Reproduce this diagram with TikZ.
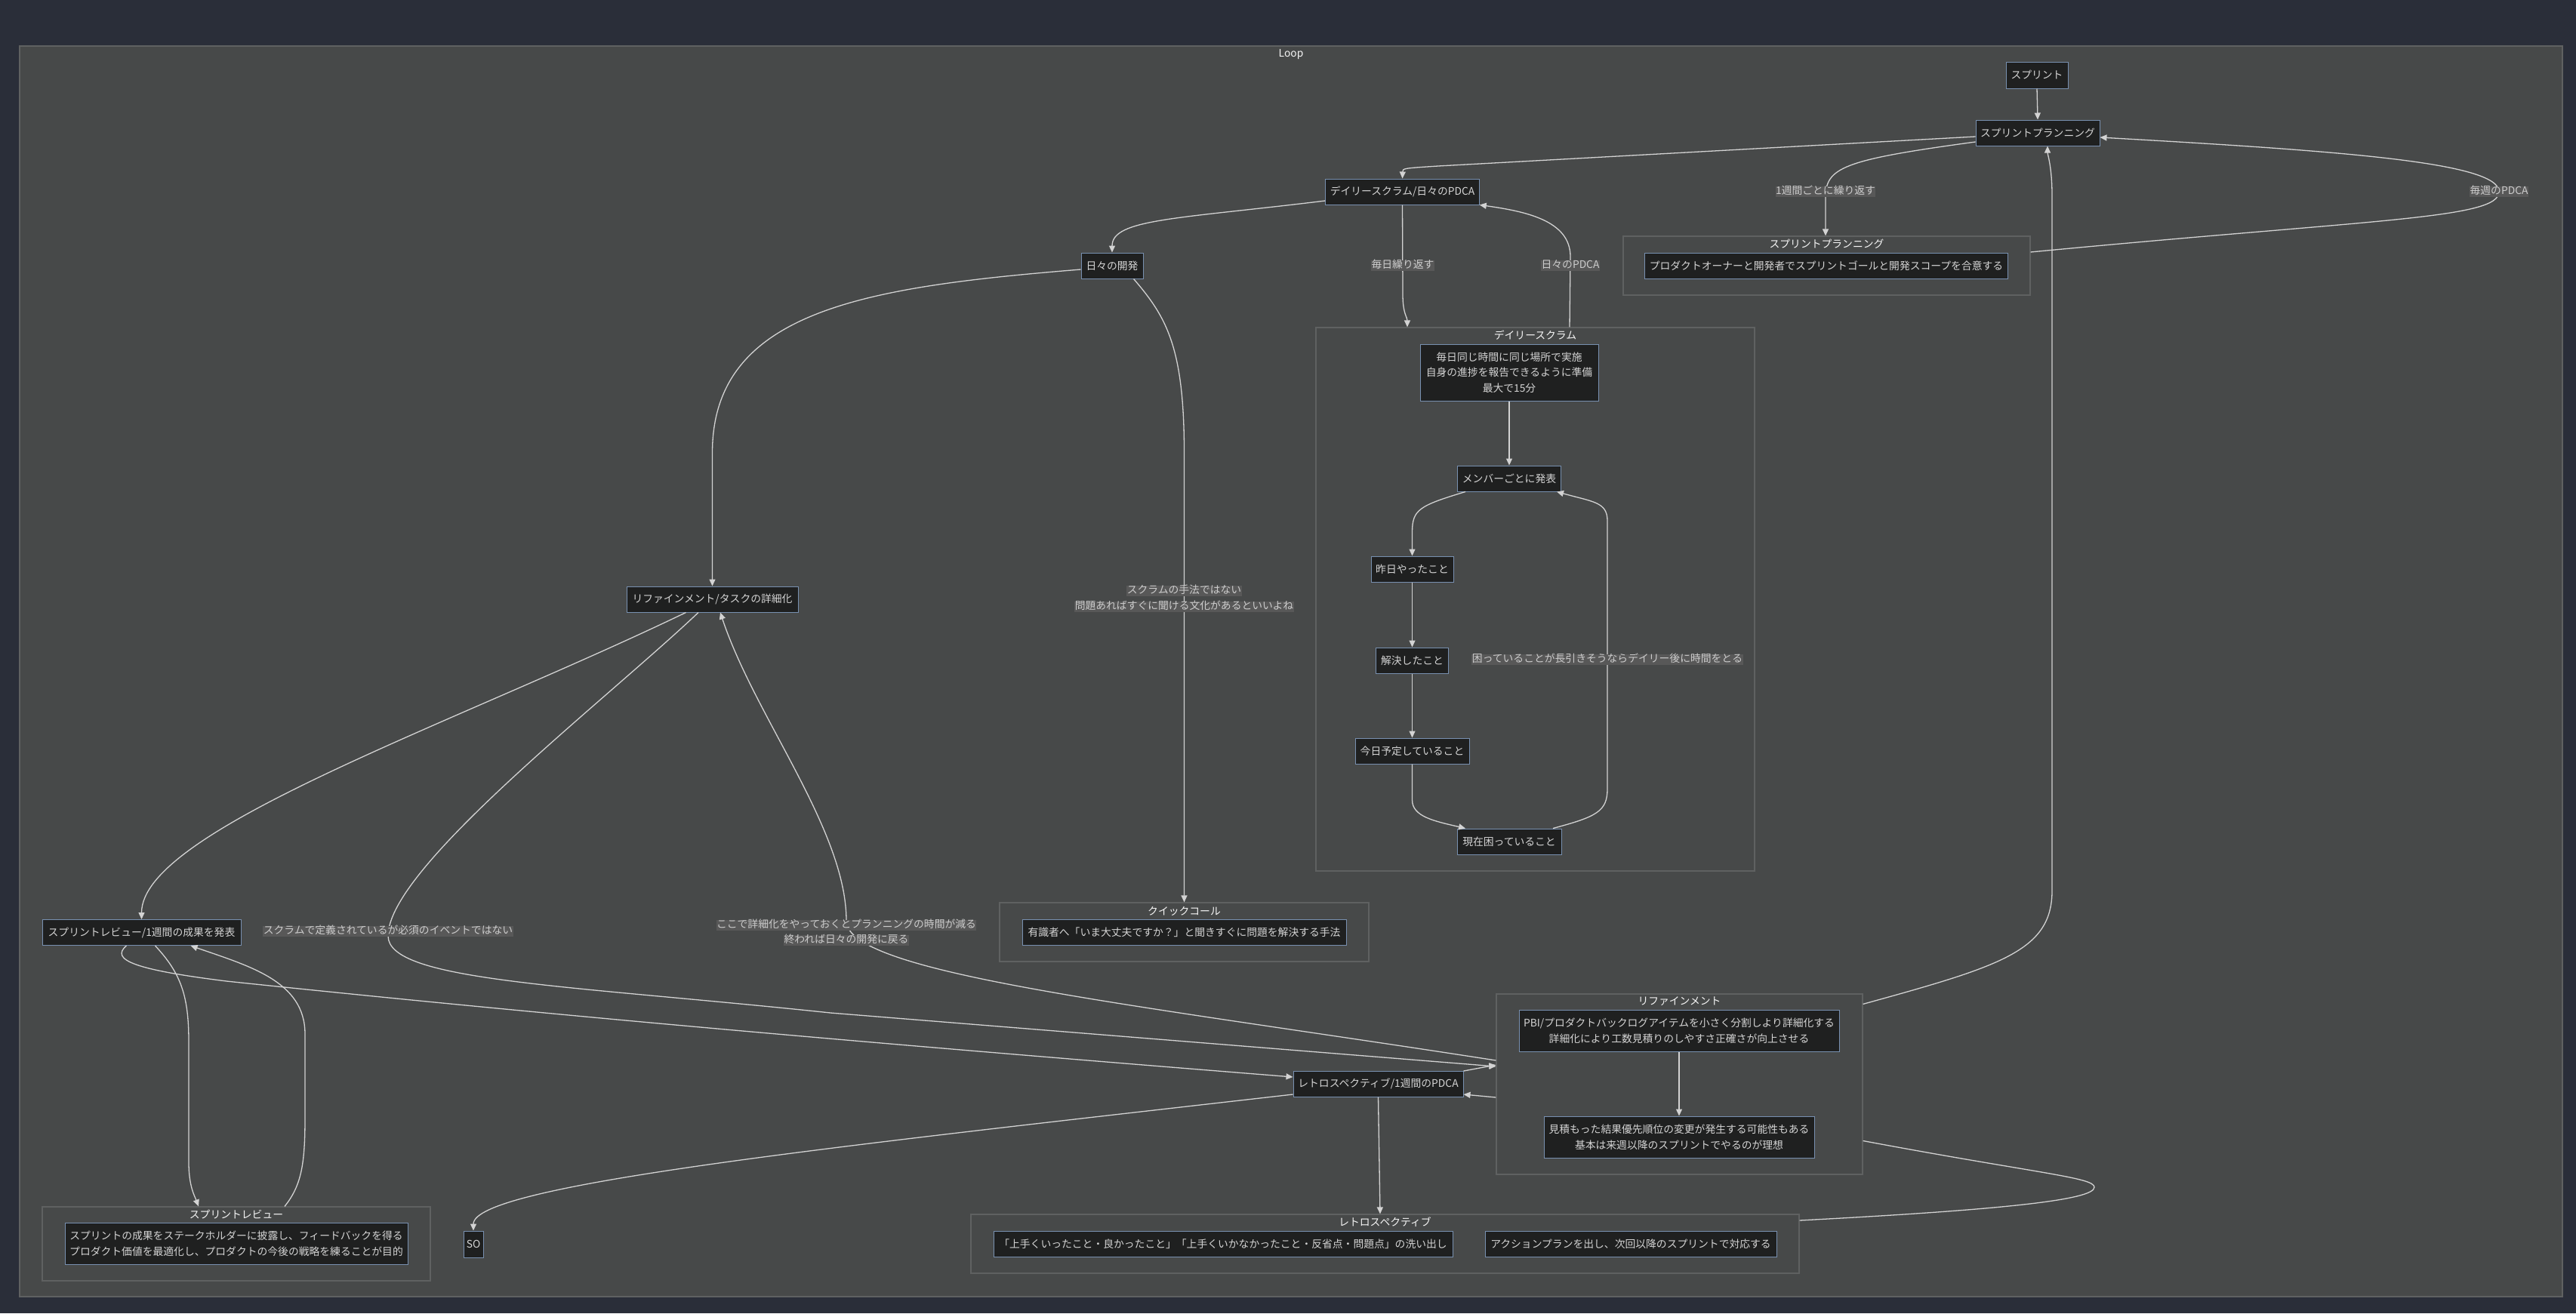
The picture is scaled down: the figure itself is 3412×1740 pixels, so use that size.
\documentclass[tikz,border=0pt]{standalone}
\usepackage{fontspec}
\setmainfont{Noto Sans CJK JP}
\usetikzlibrary{arrows.meta}
\definecolor{pagebg}{HTML}{2A2E39}
\definecolor{clfill}{HTML}{474949}
\definecolor{cldraw}{HTML}{5F6161}
\definecolor{nfill}{HTML}{1F2020}
\definecolor{ndraw}{HTML}{7890B0}
\definecolor{ntext}{HTML}{D4D4D4}
\definecolor{ttext}{HTML}{F5F5F5}
\definecolor{ecol}{HTML}{D3D3D3}
\definecolor{lbg}{HTML}{585858}
\definecolor{ltext}{HTML}{CCCCCC}
\begin{document}
\begin{tikzpicture}[x=1pt,y=-1pt,
 every node/.style={font=\fontsize{13.8}{20.5}\selectfont},
 box/.style={draw=ndraw, fill=nfill, line width=1pt, text=ntext, align=center, inner xsep=6pt, inner ysep=2pt},
 cluster/.style={draw=cldraw, fill=clfill, line width=1.2pt, inner sep=0pt},
 ctitle/.style={text=ttext, inner sep=0pt},
 edge/.style={draw=ecol, line width=1.3pt, -{Triangle[length=9pt,width=8pt]}},
 link/.style={draw=ecol, line width=1.3pt},
 lbl/.style={fill=lbg, text=ltext, inner xsep=0.5pt, inner ysep=0pt, text height=11pt, text depth=3.5pt},
]
\useasboundingbox (0,0) rectangle (3412,1740);
\fill[pagebg] (0,0) rectangle (3412,1740);

% clusters
\node[cluster, minimum width=3368pt, minimum height=1657pt] (loop) at (1710,889.5) {};
\node[ctitle] (tloop) at (1710,72) {Loop};
\node[cluster, minimum width=539pt, minimum height=78pt] (sppc) at (2419.5,352) {};
\node[ctitle] (tsppc) at (2419.5,323) {スプリントプランニング};
\node[cluster, minimum width=581pt, minimum height=720pt] (dsc) at (2033.5,794) {};
\node[ctitle] (tdsc) at (2033.5,444) {デイリースクラム};
\node[cluster, minimum width=489pt, minimum height=78pt] (qcc) at (1568.5,1235) {};
\node[ctitle] (tqcc) at (1568.5,1207) {クイックコール};
\node[cluster, minimum width=514pt, minimum height=98pt] (src) at (313,1648) {};
\node[ctitle] (tsrc) at (313,1609) {スプリントレビュー};
\node[cluster, minimum width=485pt, minimum height=239pt] (rfc) at (2224.5,1436.5) {};
\node[ctitle] (trfc) at (2224.5,1327) {リファインメント};
\node[cluster, minimum width=1097pt, minimum height=78pt] (rtc) at (1834.5,1648) {};
\node[ctitle] (trtc) at (1834.5,1619) {レトロスペクティブ};

% nodes
\node[box, minimum width=82pt, minimum height=35pt] (sprint) at (2698,99.5) {スプリント};
\node[box, minimum width=164pt, minimum height=34pt] (spplan) at (2699,176) {スプリントプランニング};
\node[box, minimum width=203pt, minimum height=34pt] (daily) at (1857.5,254) {デイリースクラム/日々のPDCA};
\node[box, minimum width=82pt, minimum height=34pt] (dev) at (1473,352) {日々の開発};
\node[box, minimum width=227pt, minimum height=34pt] (reftask) at (943.5,794) {リファインメント/タスクの詳細化};
\node[box, minimum width=263pt, minimum height=34pt] (review) at (187.5,1235.5) {スプリントレビュー/1週間の成果を発表};
\node[box, minimum width=454pt, minimum height=55pt] (srnode) at (313,1647.5) {スプリントの成果をステークホルダーに披露し、フィードバックを得る\\プロダクト価値を最適化し、プロダクトの今後の戦略を練ることが目的};
\node[box, minimum width=26pt, minimum height=35pt, inner xsep=3pt] (so) at (627,1648.5) {SO};
\node[box, minimum width=429pt, minimum height=34pt] (qcnode) at (1568.5,1235) {有識者へ「いま大丈夫ですか？」と聞きすぐに問題を解決する手法};
\node[box, minimum width=236pt, minimum height=75pt] (dsinfo) at (1999,493.5) {毎日同じ時間に同じ場所で実施\\自身の進捗を報告できるように準備\\最大で15分};
\node[box, minimum width=136pt, minimum height=34pt] (member) at (1999,634) {メンバーごとに発表};
\node[box, minimum width=109pt, minimum height=34pt] (yesterday) at (1870.5,754) {昨日やったこと};
\node[box, minimum width=96pt, minimum height=34pt] (solved) at (1870.5,875) {解決したこと};
\node[box, minimum width=151pt, minimum height=34pt] (today) at (1870.5,995) {今日予定していること};
\node[box, minimum width=138pt, minimum height=34pt] (trouble) at (1999,1115) {現在困っていること};
\node[box, minimum width=478pt, minimum height=34pt] (sppnode) at (2419,352) {プロダクトオーナーと開発者でスプリントゴールと開発スコープを合意する};
\node[box, minimum width=424pt, minimum height=55pt] (ref1) at (2224,1365.5) {PBI/プロダクトバックログアイテムを小さく分割しより詳細化する\\詳細化により工数見積りのしやすさ正確さが向上させる};
\node[box, minimum width=358pt, minimum height=55pt] (ref2) at (2224,1506.5) {見積もった結果優先順位の変更が発生する可能性もある\\基本は来週以降のスプリントでやるのが理想};
\node[box, minimum width=225pt, minimum height=34pt] (retro) at (1825.5,1436) {レトロスペクティブ/1週間のPDCA};
\node[box, minimum width=608pt, minimum height=34pt] (retro1) at (1620,1648) {「上手くいったこと・良かったこと」「上手くいかなかったこと・反省点・問題点」の洗い出し};
\node[box, minimum width=386pt, minimum height=34pt] (retro2) at (2160,1648) {アクションプランを出し、次回以降のスプリントで対応する};

% edges
\draw[edge] (sprint.south) -- (spplan.north);
\draw[edge] ([yshift=-5pt]spplan.west) -- (1905,220) .. controls (1858,223) .. (daily.north);
\draw[edge] ([yshift=-12pt]spplan.west) .. controls (2440,212) and (2418,222) .. (2418,262) -- (sppc.north -| 2418,0);
\draw[edge] ([yshift=18pt]sppc.east) .. controls (3150,290) and (3310,290) .. (3310,254) .. controls (3310,215) and (3100,200) .. ([yshift=-6pt]spplan.east);
\draw[edge] ([yshift=-12pt]daily.west) .. controls (1560,290) and (1473,290) .. (dev.north);
\draw[edge] (daily.south) -- (1858,390) .. controls (1858,416) and (1864,420) .. (dsc.north -| 1864,0);
\draw[edge] (dsc.north -| 2079,0) -- (2080,340) .. controls (2080,292) and (2020,280) .. (daily.south east);
\draw[edge] ([yshift=-5pt]dev.west) .. controls (1150,380) and (943.5,410) .. (943.5,600) -- (reftask.north);
\draw[edge] ([xshift=-13pt]dev.south east) .. controls (1545,420) and (1568.5,460) .. (1568.5,600) -- (qcc.north);
\draw[edge] ([xshift=-35pt]reftask.south) .. controls (600,960) and (187.5,1100) .. (review.north);
\draw[edge] ([xshift=-18.5pt]reftask.south) .. controls (800,930) and (514,1150) .. (514,1240) .. controls (514,1300) and (750,1305) .. (1100,1342) -- (rfc.west |- 0,1413);
\draw[edge] (rfc.west |- 0,1405) .. controls (1500,1330) and (1121,1290) .. (1121,1220) .. controls (1121,1100) and (1000,950) .. ([xshift=10.5pt]reftask.south);
\draw[edge] ([xshift=18pt]review.south) .. controls (240,1290) and (250,1320) .. (250,1380) -- (250,1540) .. controls (250,1572) and (258,1585) .. (src.north -| 263,0);
\draw[edge] (src.north -| 377,0) .. controls (400,1570) and (404,1540) .. (404,1480) -- (404,1370) .. controls (404,1300) and (330,1280) .. ([xshift=65pt]review.south);
\draw[edge] ([xshift=-20pt]review.south) .. controls (145,1272) and (180,1285) .. (300,1300) .. controls (700,1342) and (1100,1378) .. ([yshift=9pt]retro.west);
\draw[edge] ([yshift=17pt]retro.east) -- (rfc.west |- 0,1411);
\draw[edge] (rfc.west |- 0,1454) -- ([yshift=-14pt]retro.east);
\draw[edge] (retro.south) -- (rtc.north -| 1828,0);
\draw[edge] ([yshift=-14pt]retro.west) .. controls (1100,1520) and (627,1570) .. (so.north);
\draw[edge] ([yshift=-14pt]rfc.north east) .. controls (2650,1280) and (2718,1260) .. (2718,1180) -- (2718,260) .. controls (2718,220) and (2712,205) .. ([xshift=13pt]spplan.south);
\draw[edge] (dsinfo.south) -- (member.north);
\draw[edge] ([xshift=-58pt]member.south) .. controls (1880,670) and (1870.5,675) .. (1870.5,705) -- (yesterday.north);
\draw[edge] (yesterday.south) -- (solved.north);
\draw[edge] (solved.south) -- (today.north);
\draw[edge] (today.south) -- (1870.5,1060) .. controls (1870.5,1082) and (1900,1088) .. ([xshift=-58pt]trouble.north);
\draw[edge] ([xshift=58pt]trouble.north) .. controls (2115,1082) and (2129,1075) .. (2129,1045) -- (2129,690) .. controls (2129,665) and (2110,665) .. ([xshift=63pt]member.south);
\draw[edge] (ref1.south) -- (ref2.north);
\draw[link] ([yshift=-75pt]rfc.east) .. controls (2700,1555) and (2774,1560) .. (2774,1573) .. controls (2774,1590) and (2650,1603) .. ([yshift=31pt]rtc.east);

% edge labels
\node[lbl] (l1) at (2418,254) {1週間ごとに繰り返す};
\node[lbl] (l2) at (3310,254) {毎週のPDCA};
\node[lbl] (l3) at (1858,352) {毎日繰り返す};
\node[lbl] (l4) at (2080,352) {日々のPDCA};
\node[lbl] (l5a) at (1568.5,783) {スクラムの手法ではない};
\node[lbl] (l5b) at (1568.5,804) {問題あればすぐに聞ける文化があるといいよね};
\node[lbl] (l6) at (2129,874) {困っていることが長引きそうならデイリー後に時間をとる};
\node[lbl] (l7) at (514,1234) {スクラムで定義されているが必須のイベントではない};
\node[lbl] (l8a) at (1121,1226) {ここで詳細化をやっておくとプランニングの時間が減る};
\node[lbl] (l8b) at (1121,1246) {終われば日々の開発に戻る};
\end{tikzpicture}
\end{document}
